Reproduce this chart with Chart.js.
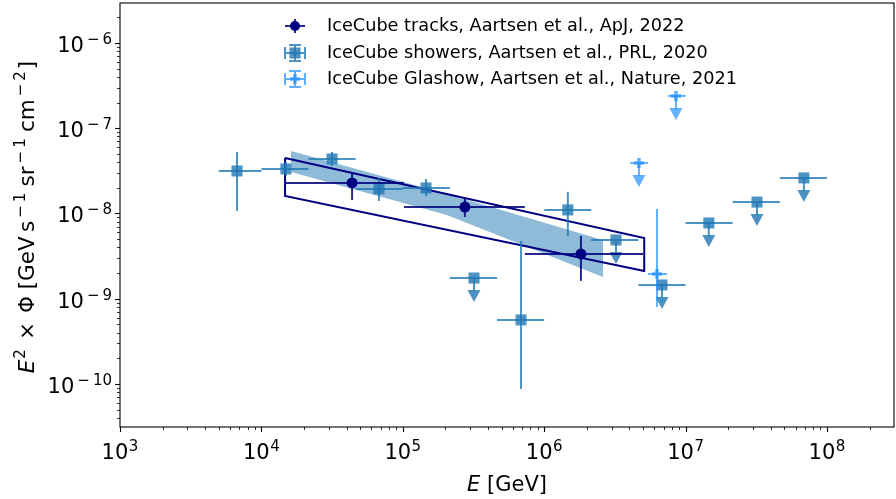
<!DOCTYPE html>
<html>
<head>
<meta charset="utf-8">
<script src="https://cdn.jsdelivr.net/npm/chart.js@4.4.1/dist/chart.umd.min.js"></script>
<style>
html, body { margin: 0; padding: 0; background: #fff; }
#c { display: block; }
</style>
</head>
<body>
<canvas id="c" width="896" height="499"></canvas>
<script>
// IceCube tracks (ApJ 2022)
var trackE   = [4.38e4, 2.75e5, 1.82e6];
var trackF   = [2.28e-8, 1.19e-8, 3.35e-9];
var trackElo = [1.47e4, 1.02e5, 7.3e5];
var trackEhi = [1.02e5, 7.3e5, 5.0e6];
var trackFlo = [1.44e-8, 9.1e-9, 1.62e-9];
var trackFhi = [2.98e-8, 1.52e-8, 5.45e-9];

// tracks power-law outline
var outlineE = [1.47e4, 5.1e6, 5.1e6, 1.47e4, 1.47e4];
var outlineF = [4.48e-8, 5.16e-9, 2.12e-9, 1.60e-8, 4.48e-8];

// showers power-law band
var bandE  = [1.62e4, 2.05e5, 2.61e6];
var bandHi = [5.41e-8, 1.69e-8, 4.89e-9];
var bandLo = [3.07e-8, 9.6e-9, 1.80e-9];

// IceCube showers (PRL 2020)
var showerE   = [6.72e3, 1.49e4, 3.16e4, 6.79e4, 1.46e5, 3.19e5, 6.86e5, 1.47e6, 3.22e6, 6.81e6, 1.46e7, 3.20e7, 6.87e7];
var showerF   = [3.15e-8, 3.33e-8, 4.36e-8, 1.94e-8, 1.99e-8, 1.75e-9, 5.64e-10, 1.10e-8, 4.89e-9, 1.45e-9, 7.74e-9, 1.36e-8, 2.61e-8];
var showerElo = [5e3, 1e4, 2.15e4, 4.64e4, 1e5, 2.15e5, 4.64e5, 1e6, 2.15e6, 4.64e6, 1e7, 2.15e7, 4.64e7];
var showerEhi = [1e4, 2.15e4, 4.64e4, 1e5, 2.15e5, 4.64e5, 1e6, 2.15e6, 4.64e6, 1e7, 2.15e7, 4.64e7, 1e8];
var showerFlo = [1.07e-8, 2.75e-8, 3.61e-8, 1.40e-8, 1.60e-8, null, 8.74e-11, 5.45e-9, null, null, null, null, null];
var showerFhi = [5.26e-8, 4.02e-8, 5.26e-8, 2.61e-8, 2.54e-8, null, 4.76e-9, 1.79e-8, null, null, null, null, null];
var showerUL  = [0, 0, 0, 0, 0, 1, 0, 0, 1, 1, 1, 1, 1];

// IceCube Glashow (Nature 2021)
var glashowE   = [4.68e6, 6.28e6, 8.55e6];
var glashowF   = [3.91e-8, 1.95e-9, 2.39e-7];
var glashowElo = [4.05e6, 5.42e6, 7.5e6];
var glashowEhi = [5.42e6, 7.38e6, 1.0e7];
var glashowFlo = [null, 8.0e-10, null];
var glashowFhi = [null, 1.13e-8, null];
var glashowUL  = [1, 0, 1];

var legendLabels = [
    'IceCube tracks, Aartsen et al., ApJ, 2022',
    'IceCube showers, Aartsen et al., PRL, 2020',
    'IceCube Glashow, Aartsen et al., Nature, 2021'
];

var xTickExp = [3, 4, 5, 6, 7, 8];
var yTickExp = [-10, -9, -8, -7, -6];

var NAVY = 'rgb(0,0,128)';
var NAVY_ERR = 'rgba(0,0,128,0.85)';
var SHOWER = 'rgba(31,119,180,0.8)';
var BAND = 'rgba(31,119,180,0.5)';
var GLASHOW = 'rgba(30,144,255,0.7)';
var FONT = '"DejaVu Sans", sans-serif';

function pts(xs, ys) {
    var out = [];
    for (var i = 0; i < xs.length; i++) out.push({ x: xs[i], y: ys[i] });
    return out;
}

function drawArrow(ctx, px, py, color) {
    ctx.strokeStyle = color;
    ctx.fillStyle = color;
    ctx.beginPath();
    ctx.moveTo(px, py);
    ctx.lineTo(px, py + 13);
    ctx.stroke();
    ctx.beginPath();
    ctx.moveTo(px - 6.5, py + 12);
    ctx.lineTo(px + 6.5, py + 12);
    ctx.lineTo(px, py + 24);
    ctx.closePath();
    ctx.fill();
}

// runs: {t: text, s: size, it: italic, dy: baseline shift, gap: extra space before}
function drawRuns(ctx, runs, x, y, align) {
    var w = 0, i;
    for (i = 0; i < runs.length; i++) {
        ctx.font = (runs[i].it ? 'italic ' : '') + runs[i].s + 'px ' + FONT;
        runs[i].w = ctx.measureText(runs[i].t).width + (runs[i].gap || 0);
        w += runs[i].w;
    }
    var cx = align === 'center' ? x - w / 2 : (align === 'right' ? x - w : x);
    ctx.textAlign = 'left';
    ctx.textBaseline = 'alphabetic';
    for (i = 0; i < runs.length; i++) {
        ctx.font = (runs[i].it ? 'italic ' : '') + runs[i].s + 'px ' + FONT;
        ctx.fillText(runs[i].t, cx + (runs[i].gap || 0), y + (runs[i].dy || 0));
        cx += runs[i].w;
    }
}

// superscript with a minus sign, spaced like mathtext
function supRuns(e, s, dy) {
    if (e >= 0) return [{ t: String(e), s: s, dy: dy, gap: 0.5 }];
    return [{ t: '\u2212', s: s, dy: dy, gap: 3 }, { t: String(-e), s: s, dy: dy, gap: 3 }];
}

function powRuns(e) {
    return [{ t: '10', s: 21 }].concat(supRuns(e, 15, -8));
}

var decor = {
    id: 'decor',
    beforeDatasetDraw: function (chart, args) {
        var ds = chart.data.datasets[args.index];
        if (!ds.err) return;
        var e = ds.err, xs = chart.scales.x, ys = chart.scales.y, ctx = chart.ctx;
        var a = chart.chartArea;
        ctx.save();
        ctx.beginPath();
        ctx.rect(a.left, a.top, a.right - a.left, a.bottom - a.top);
        ctx.clip();
        ctx.lineWidth = 2;
        ctx.strokeStyle = e.color;
        for (var i = 0; i < e.x.length; i++) {
            var px = xs.getPixelForValue(e.x[i]);
            var py = ys.getPixelForValue(e.f[i]);
            ctx.beginPath();
            ctx.moveTo(xs.getPixelForValue(e.xlo[i]), py);
            ctx.lineTo(xs.getPixelForValue(e.xhi[i]), py);
            ctx.stroke();
            if (e.flo[i] != null) {
                ctx.beginPath();
                ctx.moveTo(px, ys.getPixelForValue(e.fhi[i]));
                ctx.lineTo(px, ys.getPixelForValue(e.flo[i]));
                ctx.stroke();
            }
            if (e.ul && e.ul[i]) drawArrow(ctx, px, py, e.color);
        }
        ctx.restore();
    },
    afterDraw: function (chart) {
        var ctx = chart.ctx, a = chart.chartArea;
        var xs = chart.scales.x, ys = chart.scales.y;
        var k, m, v, p;
        ctx.save();
        ctx.strokeStyle = '#000';
        ctx.fillStyle = '#000';

        // spines
        ctx.lineWidth = 1.1;
        ctx.strokeRect(a.left, a.top, a.right - a.left, a.bottom - a.top);

        // x ticks
        for (k = 3; k <= 8; k++) {
            for (m = 1; m <= 9; m++) {
                v = m * Math.pow(10, k);
                if (v < xs.min || v > xs.max) continue;
                p = Math.round(xs.getPixelForValue(v)) + 0.5;
                ctx.lineWidth = m === 1 ? 1.1 : 0.8;
                ctx.beginPath();
                ctx.moveTo(p, a.bottom);
                ctx.lineTo(p, a.bottom + (m === 1 ? 5 : 3));
                ctx.stroke();
            }
        }
        // y ticks
        for (k = -11; k <= -6; k++) {
            for (m = 1; m <= 9; m++) {
                v = m * Math.pow(10, k);
                if (v < ys.min || v > ys.max) continue;
                p = Math.round(ys.getPixelForValue(v)) + 0.5;
                ctx.lineWidth = m === 1 ? 1.1 : 0.8;
                ctx.beginPath();
                ctx.moveTo(a.left, p);
                ctx.lineTo(a.left - (m === 1 ? 5 : 3), p);
                ctx.stroke();
            }
        }

        // tick labels
        xTickExp.forEach(function (e) {
            drawRuns(ctx, powRuns(e), xs.getPixelForValue(Math.pow(10, e)), a.bottom + 32, 'center');
        });
        yTickExp.forEach(function (e) {
            drawRuns(ctx, powRuns(e), a.left - 8, ys.getPixelForValue(Math.pow(10, e)) + 9, 'right');
        });

        // axis titles
        drawRuns(ctx, [{ t: 'E', s: 21, it: true }, { t: ' [GeV]', s: 21 }], (a.left + a.right) / 2, 491, 'center');
        ctx.save();
        ctx.translate(34, (a.top + a.bottom) / 2 + 2);
        ctx.rotate(-Math.PI / 2);
        var ylab = [{ t: 'E', s: 21.5, it: true }, { t: '2', s: 15, dy: -9, gap: 1 },
            { t: '\u00d7', s: 21.5, gap: 9 }, { t: '\u03a6 [GeV\u2009s', s: 21.5, gap: 9 }]
            .concat(supRuns(-1, 15, -9))
            .concat([{ t: '\u2009sr', s: 21.5, gap: 2 }])
            .concat(supRuns(-1, 15, -9))
            .concat([{ t: '\u2009cm', s: 21.5, gap: 2 }])
            .concat(supRuns(-2, 15, -9))
            .concat([{ t: ']', s: 21.5, gap: 2 }]);
        drawRuns(ctx, ylab, 0, 0, 'center');
        ctx.restore();

        // legend
        var lx = 295, ly = [26, 53, 79];
        ctx.lineWidth = 2;
        // tracks
        ctx.strokeStyle = NAVY_ERR;
        ctx.beginPath();
        ctx.moveTo(lx - 10, ly[0]); ctx.lineTo(lx + 10, ly[0]);
        ctx.moveTo(lx, ly[0] - 7); ctx.lineTo(lx, ly[0] + 7);
        ctx.stroke();
        ctx.fillStyle = NAVY;
        ctx.beginPath(); ctx.arc(lx, ly[0], 5, 0, Math.PI * 2); ctx.fill();
        // showers and glashow
        [[SHOWER, ly[1]], [GLASHOW, ly[2]]].forEach(function (s, j) {
            var y = s[1];
            ctx.strokeStyle = s[0];
            ctx.beginPath();
            ctx.moveTo(lx - 10, y); ctx.lineTo(lx + 10, y);
            ctx.moveTo(lx - 10, y - 6); ctx.lineTo(lx - 10, y + 6);
            ctx.moveTo(lx + 10, y - 6); ctx.lineTo(lx + 10, y + 6);
            ctx.moveTo(lx, y - 8); ctx.lineTo(lx, y + 8);
            ctx.moveTo(lx - 6, y - 8); ctx.lineTo(lx + 6, y - 8);
            ctx.moveTo(lx - 6, y + 8); ctx.lineTo(lx + 6, y + 8);
            ctx.stroke();
            ctx.fillStyle = s[0];
            if (j === 0) {
                ctx.fillRect(lx - 5.5, y - 5.5, 11, 11);
            } else {
                ctx.lineWidth = 3.5;
                ctx.beginPath();
                ctx.moveTo(lx - 5, y); ctx.lineTo(lx + 5, y);
                ctx.moveTo(lx, y - 5); ctx.lineTo(lx, y + 5);
                ctx.stroke();
                ctx.lineWidth = 2;
            }
        });
        ctx.fillStyle = '#000';
        ctx.font = '17.7px ' + FONT;
        ctx.textBaseline = 'middle';
        ctx.textAlign = 'left';
        legendLabels.forEach(function (t, i) { ctx.fillText(t, 327, ly[i]); });
        ctx.restore();
    }
};

new Chart(document.getElementById('c'), {
    type: 'scatter',
    data: {
        datasets: [{
            type: 'line',
            data: pts(bandE, bandHi),
            fill: '+1',
            backgroundColor: BAND,
            borderColor: 'rgba(0,0,0,0)',
            borderWidth: 0,
            pointRadius: 0,
            tension: 0,
            order: 6
        }, {
            type: 'line',
            data: pts(bandE, bandLo),
            fill: false,
            borderColor: 'rgba(0,0,0,0)',
            borderWidth: 0,
            pointRadius: 0,
            tension: 0,
            order: 5
        }, {
            type: 'line',
            data: pts(outlineE, outlineF),
            fill: false,
            borderColor: NAVY,
            borderWidth: 2,
            pointRadius: 0,
            tension: 0,
            order: 4
        }, {
            data: pts(showerE, showerF),
            pointStyle: 'rect',
            pointRadius: 7.8,
            backgroundColor: SHOWER,
            borderWidth: 0,
            order: 3,
            err: { x: showerE, f: showerF, xlo: showerElo, xhi: showerEhi, flo: showerFlo, fhi: showerFhi, ul: showerUL, color: SHOWER }
        }, {
            data: pts(glashowE, glashowF),
            pointStyle: 'cross',
            pointRadius: 5,
            borderColor: GLASHOW,
            borderWidth: 3.5,
            order: 2,
            err: { x: glashowE, f: glashowF, xlo: glashowElo, xhi: glashowEhi, flo: glashowFlo, fhi: glashowFhi, ul: glashowUL, color: GLASHOW }
        }, {
            data: pts(trackE, trackF),
            pointStyle: 'circle',
            pointRadius: 5.5,
            backgroundColor: NAVY,
            borderWidth: 0,
            order: 1,
            err: { x: trackE, f: trackF, xlo: trackElo, xhi: trackEhi, flo: trackFlo, fhi: trackFhi, color: NAVY_ERR }
        }]
    },
    options: {
        responsive: false,
        animation: false,
        devicePixelRatio: 1,
        events: [],
        layout: { autoPadding: false, padding: { left: 0, right: 2, top: 3, bottom: 0 } },
        plugins: { legend: { display: false }, tooltip: { enabled: false } },
        scales: {
            x: {
                type: 'logarithmic', min: 1e3, max: 2.98e8,
                grid: { display: false }, border: { display: false },
                ticks: { display: false },
                afterFit: function (s) { s.height = 72; }
            },
            y: {
                type: 'logarithmic', min: 3.13e-11, max: 2.94e-6,
                grid: { display: false }, border: { display: false },
                ticks: { display: false },
                afterFit: function (s) { s.width = 120; }
            }
        }
    },
    plugins: [decor]
});
</script>
</body>
</html>
